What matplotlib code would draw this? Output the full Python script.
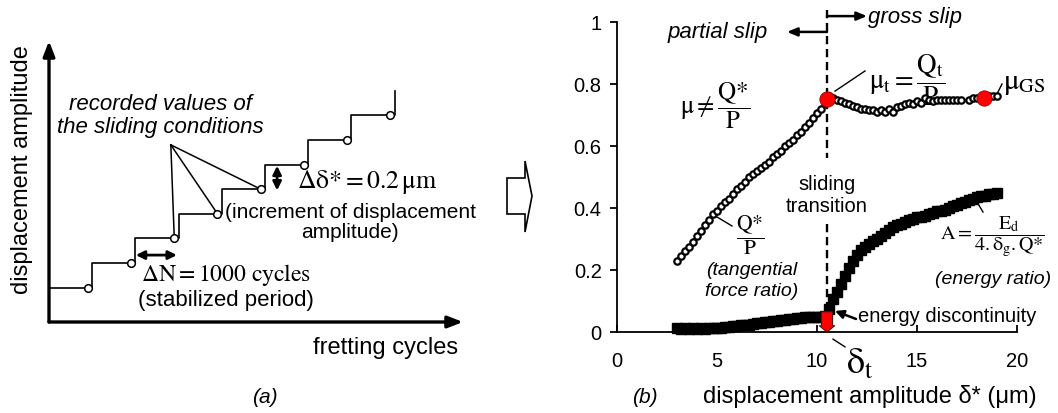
import numpy as np
import matplotlib
matplotlib.use("Agg")
import matplotlib.pyplot as plt
from matplotlib.patches import Polygon

plt.rcParams['font.family'] = ['Liberation Sans', 'DejaVu Sans']
plt.rcParams['mathtext.fontset'] = 'stix'
plt.rcParams['mathtext.default'] = 'rm'

# ---- panel (a): schematic step test ----
cycle_blocks = [0, 1, 2, 3, 4, 5, 6, 7, 8]          # in units of dN = 1000 cycles
amp_levels = [1.4, 2.4, 3.4, 4.4, 5.4, 6.4, 7.4, 8.4, 9.4]  # in units of d(delta*)
recorded_idx = [2, 3, 4]                           # circles pointed to by the note

# ---- panel (b): measured data ----
delta = np.round(np.arange(3.0, 19.01, 0.2), 1)    # displacement amplitude (um)
q_ratio = [0.230, 0.245, 0.260, 0.275, 0.290, 0.310, 0.325, 0.345, 0.360, 0.380,
           0.390, 0.405, 0.420, 0.430, 0.445, 0.460, 0.470, 0.485, 0.500, 0.510,
           0.520, 0.530, 0.540, 0.550, 0.565, 0.575, 0.585, 0.600, 0.610, 0.620,
           0.635, 0.645, 0.660, 0.675, 0.690, 0.705, 0.720, 0.740, 0.760, 0.755,
           0.750, 0.745, 0.740, 0.735, 0.730, 0.725, 0.720, 0.720, 0.715, 0.715,
           0.710, 0.715, 0.710, 0.720, 0.710, 0.725, 0.730, 0.735, 0.740, 0.735,
           0.745, 0.740, 0.755, 0.750, 0.745, 0.750, 0.750, 0.750, 0.748, 0.750,
           0.750, 0.750, np.nan, 0.750, 0.755, 0.755, 0.755, 0.755, 0.760, 0.760,
           0.760]
energy_ratio = [0.012, 0.010, 0.012, 0.010, 0.012, 0.010, 0.012, 0.011, 0.013, 0.012,
                0.014, 0.013, 0.015, 0.016, 0.018, 0.019, 0.021, 0.022, 0.024, 0.026,
                0.028, 0.029, 0.031, 0.033, 0.034, 0.036, 0.038, 0.040, 0.042, 0.043,
                0.045, 0.046, 0.047, 0.048, 0.049, 0.050, 0.048, 0.052, 0.075, 0.105,
                0.130, 0.155, 0.180, 0.205, 0.230, 0.250, 0.265, 0.275, 0.285, 0.295,
                0.300, 0.310, 0.320, 0.330, 0.340, 0.345, 0.350, 0.355, 0.360, 0.365,
                0.370, 0.370, 0.375, 0.380, 0.385, 0.390, 0.390, 0.395, 0.400, 0.405,
                0.410, 0.415, 0.420, 0.425, 0.430, 0.435, 0.440, 0.440, 0.445, 0.445,
                0.450]
delta_t = 10.5
mu_t = 0.752
delta_gs = 18.35
mu_gs = 0.755
energy_jump = 0.065

W, H = 1058, 414
fig = plt.figure(figsize=(W / 100, H / 100), dpi=100)


def fx(px):
    return px / W


def fy(py):
    return 1 - py / H


# ================= panel (a) =================
ax_a = fig.add_axes([fx(49), fy(323), fx(463) - fx(49), fy(42) - fy(323)])
ax_a.set_xlim(0, (463 - 49) / 43.2)
ax_a.set_ylim(0, (323 - 42) / 24.6)
ax_a.axis('off')

# axes arrows
ax_a.annotate('', xy=(0, 1), xytext=(0, 0), xycoords='axes fraction',
              arrowprops=dict(arrowstyle='-|>,head_length=0.9,head_width=0.35', lw=2.4, color='k',
                              shrinkA=0, shrinkB=0))
ax_a.annotate('', xy=(1, 0), xytext=(0, 0), xycoords='axes fraction',
              arrowprops=dict(arrowstyle='-|>,head_length=0.9,head_width=0.35', lw=2.4, color='k',
                              shrinkA=0, shrinkB=0))

ax_a.step(cycle_blocks, amp_levels, where='post', color='k', lw=1.2, zorder=2)
circ_x = np.array(cycle_blocks[1:]) - 0.1
circ_y = np.array(amp_levels[:-1])

# leader lines from the note to a few recorded points
note_x, note_y = 2.82, 7.2
for i in recorded_idx:
    ax_a.plot([note_x, circ_x[i]], [note_y, circ_y[i]], color='k', lw=1.1, zorder=2)

ax_a.plot(circ_x, circ_y, 'o', ms=5.5, mfc='white', mec='k', mew=1.1, zorder=3)

ax_a.text(2.57, 8.41, 'recorded values of\nthe sliding conditions', ha='center', va='center',
          fontsize=16, style='italic', linespacing=1.15)

# increment arrows
ax_a.annotate('', xy=(5.28, amp_levels[5] - 0.05), xytext=(5.28, amp_levels[4] - 0.05),
              arrowprops=dict(arrowstyle='<|-|>,head_length=0.5,head_width=0.25', lw=2.0, color='k',
                              shrinkA=0, shrinkB=0))
ax_a.text(5.74, 5.73, r'$\Delta\delta{*} = 0.2\,\mathrm{\mu m}$', ha='left', va='center', fontsize=18.5)
ax_a.text(6.97, 4.1, '(increment of displacement\namplitude)', ha='center', va='center',
          fontsize=15, linespacing=1.05)

ax_a.annotate('', xy=(cycle_blocks[3] - 0.04, 2.72), xytext=(cycle_blocks[2] + 0.01, 2.72),
              arrowprops=dict(arrowstyle='<|-|>,head_length=0.5,head_width=0.25', lw=2.0, color='k',
                              shrinkA=0, shrinkB=0))
ax_a.text(4.1, 1.95, r'$\Delta\mathrm{N} = 1000\ \mathrm{cycles}$', ha='center', va='center', fontsize=17)
ax_a.text(4.1, 0.93, '(stabilized period)', ha='center', va='center', fontsize=16)

fig.text(fx(458), fy(348), 'fretting cycles', ha='right', va='center', fontsize=17)
fig.text(fx(22), fy(170), 'displacement amplitude', ha='center', va='center', fontsize=17,
         rotation=90)
fig.text(fx(265), fy(398), '(a)', ha='center', va='center', fontsize=15, style='italic')
fig.text(fx(645), fy(398), '(b)', ha='center', va='center', fontsize=15, style='italic')

# block arrow between panels
arrow_px = [(507, 179), (525, 179), (525, 162), (532, 197), (525, 233), (525, 215), (507, 215)]
fig.patches.append(Polygon([(fx(x), fy(y)) for x, y in arrow_px], closed=True, fc='white',
                           ec='k', lw=1.2, transform=fig.transFigure))

# ================= panel (b) =================
ax = fig.add_axes([fx(617), fy(333), fx(1017) - fx(617), fy(23) - fy(333)])
ax.set_xlim(0, 20)
ax.set_ylim(0, 1)
for s in ['top', 'right']:
    ax.spines[s].set_visible(False)
for s in ['left', 'bottom']:
    ax.spines[s].set_linewidth(1.3)
ax.set_xticks([0, 5, 10, 15, 20])
ax.set_yticks([0, 0.2, 0.4, 0.6, 0.8, 1])
ax.set_yticklabels(['0', '0.2', '0.4', '0.6', '0.8', '1'])
ax.tick_params(axis='x', direction='in', length=5, width=1.3, labelsize=14.5, pad=14)
ax.tick_params(axis='y', direction='out', length=5, width=1.3, labelsize=14.5, pad=6)
fig.text(fx(703), fy(397), 'displacement amplitude δ* (μm)', ha='left', va='center', fontsize=17)

# transition line
ax.plot([delta_t, delta_t], [1.04, 0.56], color='k', lw=1.7, ls=(0, (3.5, 2)), clip_on=False)
ax.plot([delta_t, delta_t], [0.35, 0.05], color='k', lw=1.7, ls=(0, (3.5, 2)), clip_on=False)
ax.text(delta_t, 0.445, 'sliding\ntransition', ha='center', va='center', fontsize=14.5,
        linespacing=1.2)

ax.plot(delta, energy_ratio, 's', ms=6.6, color='k', zorder=3, clip_on=False)
ax.plot(delta, q_ratio, 'o', ms=4.6, mfc='white', mec='k', mew=1.6, zorder=4)

ax.plot([delta_t], [mu_t], 'o', ms=11, mfc='red', mec='#990000', mew=0.6, zorder=5)
ax.plot([delta_gs], [mu_gs], 'o', ms=11, mfc='red', mec='#990000', mew=0.6, zorder=5)

# red block arrow marking the energy discontinuity
ax.annotate('', xy=(delta_t, 0), xytext=(delta_t, energy_jump),
            arrowprops=dict(arrowstyle='simple,head_length=0.45,head_width=1.1,tail_width=0.8',
                            fc='red', ec='#551111', lw=0.8, shrinkA=0, shrinkB=0),
            zorder=6, annotation_clip=False)

# slip regime arrows
ax.annotate('', xy=(12.5, 1.019), xytext=(delta_t, 1.019),
            arrowprops=dict(arrowstyle='-|>,head_length=0.6,head_width=0.25', lw=1.8, color='k',
                            shrinkA=0, shrinkB=0), annotation_clip=False)
ax.text(12.55, 1.019, 'gross slip', ha='left', va='center', fontsize=16, style='italic')
ax.annotate('', xy=(8.5, 0.968), xytext=(delta_t, 0.968),
            arrowprops=dict(arrowstyle='-|>,head_length=0.6,head_width=0.25', lw=1.8, color='k',
                            shrinkA=0, shrinkB=0), annotation_clip=False)
ax.text(7.55, 0.968, 'partial slip', ha='right', va='center', fontsize=16, style='italic')

# equations
ax.text(4.9, 0.735, r'$\mu \neq \dfrac{\mathrm{Q}{*}}{\mathrm{P}}$', ha='center', va='center',
        fontsize=18)
ax.plot([10.9, 12.4], [0.777, 0.842], color='k', lw=1.0)
ax.text(14.5, 0.815, r'$\mu_\mathrm{t} = \dfrac{\mathrm{Q_t}}{\mathrm{P}}$', ha='center',
        va='center', fontsize=19.5)
ax.plot([19.0, 19.25], [0.768, 0.8], color='k', lw=1.0)
ax.text(19.3, 0.806, r'$\mu_\mathrm{GS}$', ha='left', va='center', fontsize=21)

ax.plot([5.0, 5.75], [0.371, 0.342], color='k', lw=1.0)
ax.text(6.65, 0.316, r'$\dfrac{\mathrm{Q}{*}}{\mathrm{P}}$', ha='center', va='center',
        fontsize=15.5)
ax.text(6.75, 0.168, '(tangential\nforce ratio)', ha='center', va='center', fontsize=14,
        style='italic', linespacing=1.3)

ax.plot([17.9, 18.3], [0.43, 0.387], color='k', lw=1.0)
ax.text(18.75, 0.31, r'$\mathrm{A} = \dfrac{\mathrm{E_d}}{4.\delta_\mathrm{g}.\mathrm{Q}{*}}$',
        ha='center', va='center', fontsize=14.5)
ax.text(18.8, 0.171, '(energy ratio)', ha='center', va='center', fontsize=14, style='italic',
        clip_on=False)

ax.annotate('', xy=(10.9, 0.068), xytext=(11.95, 0.042),
            arrowprops=dict(arrowstyle='-|>,head_length=0.5,head_width=0.25', lw=1.8, color='k',
                            shrinkA=0, shrinkB=0))
ax.text(12.05, 0.052, 'energy discontinuity', ha='left', va='center', fontsize=14.5)

ax.plot([10.8, 11.4], [-0.023, -0.048], color='k', lw=1.0, clip_on=False)
ax.text(12.15, -0.1, r'$\delta_\mathrm{t}$', ha='center', va='center', fontsize=26,
        clip_on=False)

fig.savefig('out.png', dpi=100)
